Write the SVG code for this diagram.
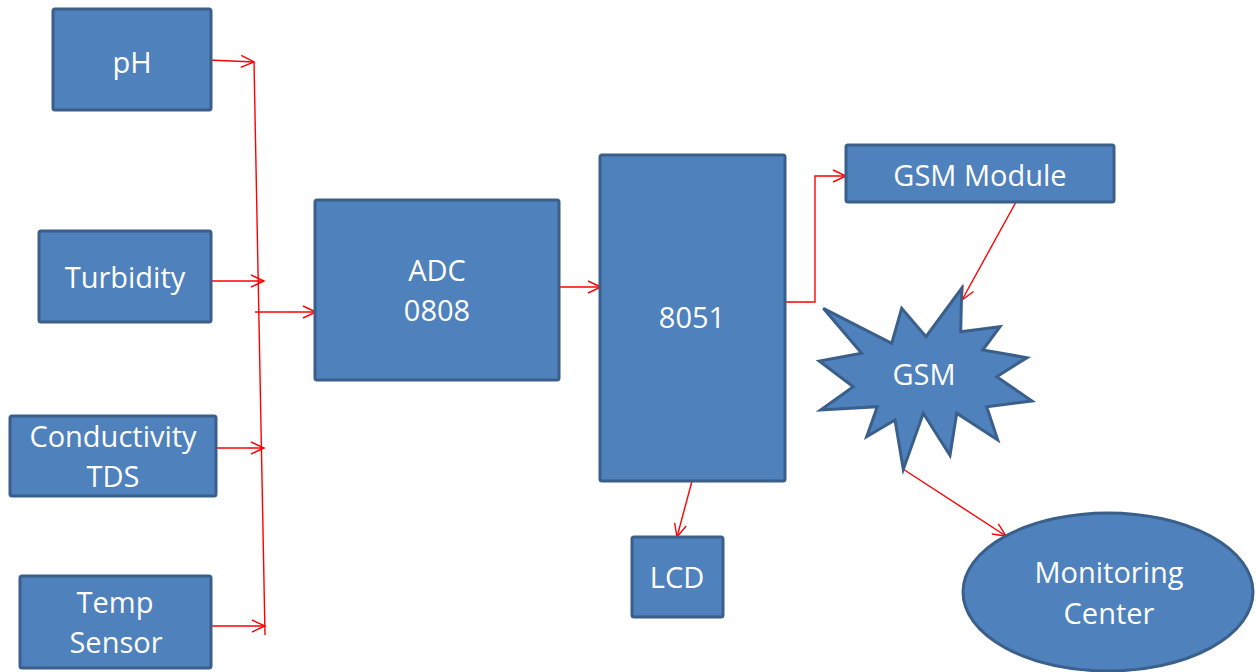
<svg xmlns="http://www.w3.org/2000/svg" width="1256" height="672" viewBox="0 0 1256 672">
<defs>
<style>
.n{fill:#4F81BD;stroke:#3A5F8B;stroke-width:3;}
.t{fill:#fff;font-family:"Open Sans","Liberation Sans",sans-serif;font-size:29px;text-anchor:middle;}
.c{fill:none;stroke:#FF0000;stroke-width:1.4;}
</style>
<marker id="ah" markerUnits="userSpaceOnUse" markerWidth="16" markerHeight="14" refX="14" refY="7" orient="auto" viewBox="0 0 16 14">
<path d="M1,1 L14,7 L1,13" fill="none" stroke="#FF0000" stroke-width="1.4"/>
</marker>
</defs>
<rect width="1256" height="672" fill="#fff"/>
<g id="connectors">
<path class="c" d="M209,60 L254,62" marker-end="url(#ah)"/>
<path class="c" d="M254,62 L265,635"/>
<path class="c" d="M202,281 L264,281" marker-end="url(#ah)"/>
<path class="c" d="M255,312 L316,312" marker-end="url(#ah)"/>
<path class="c" d="M212,448 L264,448" marker-end="url(#ah)"/>
<path class="c" d="M202,626 L265,626" marker-end="url(#ah)"/>
<path class="c" d="M560,287 L601,287" marker-end="url(#ah)"/>
<path class="c" d="M785,302 L815,302 L815,176 L846,176" marker-end="url(#ah)"/>
<path class="c" d="M1016,202 L962,300" marker-end="url(#ah)"/>
<path class="c" d="M692,481 L677,537" marker-end="url(#ah)"/>
<path class="c" d="M903,469 L1006,536" marker-end="url(#ah)"/>
</g>
<g id="ph"><rect class="n" x="53" y="9" width="158" height="101" rx="2"/><text class="t" x="132" y="73">pH</text></g>
<g id="turbidity"><rect class="n" x="39" y="231" width="172" height="91" rx="2"/><text class="t" x="125" y="288">Turbidity</text></g>
<g id="conductivity"><rect class="n" x="10" y="416" width="206" height="80" rx="2"/><text class="t" x="113" y="447">Conductivity</text><text class="t" x="113" y="487">TDS</text></g>
<g id="temp"><rect class="n" x="20" y="576" width="191" height="92" rx="2"/><text class="t" x="115" y="613">Temp</text><text class="t" x="116" y="653">Sensor</text></g>
<g id="adc"><rect class="n" x="315" y="200" width="244" height="180" rx="2"/><text class="t" x="437" y="281">ADC</text><text class="t" x="437" y="321">0808</text></g>
<g id="mcu"><rect class="n" x="600" y="155" width="185" height="326" rx="2"/><text class="t" x="692" y="328">8051</text></g>
<g id="gsmmodule"><rect class="n" x="846" y="145" width="268" height="57" rx="2"/><text class="t" x="980" y="186">GSM Module</text></g>
<g id="lcd"><rect class="n" x="632" y="537" width="91" height="80" rx="2"/><text class="t" x="677" y="588">LCD</text></g>
<g id="gsm"><polygon class="n" points="961.7,288.3 960.7,331.7 1000,326.7 982.7,350 1027,357.7 996.7,376.7 1032,401 986.7,406.7 997.7,440 956.7,413.3 950,455.3 923.3,413.3 903.3,469.3 895,420 866.7,436.7 877.3,406.7 820.7,410 853.3,386.7 819.3,361 861.7,353.3 823.3,308.3 891.7,343.3 901.7,308.3 926,336.7"/><text class="t" x="924" y="385">GSM</text></g>
<g id="monitoring"><ellipse class="n" cx="1108" cy="592" rx="145" ry="79"/><text class="t" x="1109" y="583">Monitoring</text><text class="t" x="1109" y="624">Center</text></g>
</svg>
